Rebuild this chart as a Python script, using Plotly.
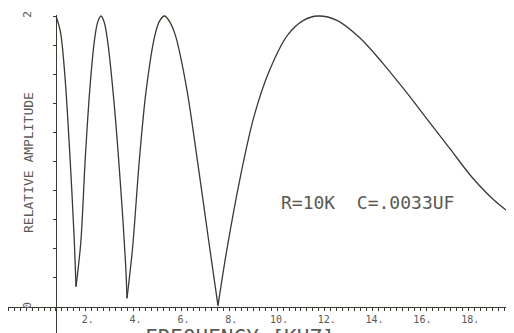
import plotly.graph_objects as go

# frequency (kHz) and relative amplitude
freq_khz = [0.0, 0.188, 0.377, 0.565, 0.753, 0.837,
            1.036, 1.224, 1.412, 1.600, 1.741, 1.883, 2.024, 2.165, 2.448, 2.741,
            2.918, 2.971,
            3.201, 3.483, 3.766, 4.142, 4.331, 4.538, 4.755, 4.990, 5.460, 5.931,
            6.402, 6.778,
            7.155, 7.720, 8.285, 8.944, 9.697, 10.356, 10.958, 11.757, 12.709,
            13.651, 14.592, 15.533, 16.473, 17.416, 18.357, 19.205]
amplitude = [2.0, 1.89, 1.58, 1.09, 0.50, 0.14,
             0.44, 1.02, 1.49, 1.82, 1.956, 2.0, 1.954, 1.82, 1.37, 0.74,
             0.28, 0.06,
             0.40, 1.00, 1.48, 1.87, 1.965, 2.0, 1.962, 1.87, 1.51, 0.99,
             0.44, 0.01,
             0.40, 0.90, 1.31, 1.63, 1.87, 1.97, 2.0, 1.97, 1.85,
             1.68, 1.49, 1.29, 1.09, 0.89, 0.73, 0.62]
# indices of the notches, where each lobe ends
null_idx = [0, 5, 17, 29, len(freq_khz) - 1]

x_ticks = [2, 4, 6, 8, 10, 12, 14, 16, 18]
x_ticktext = ["2.", "4.", "6.", "8.", "10.", "12.", "14.", "16.", "18."]
y_ticks = [0, 2]
y_ticktext = ["0", "2"]
note = "R=10K\u00a0 C=.0033UF"

INK = "#3a3a32"
TEXT = "#5a5a55"
MONO = "DejaVu Sans Mono"

fig = go.Figure()
# draw each lobe separately so the notches stay sharp
for a, b in zip(null_idx[:-1], null_idx[1:]):
    fig.add_trace(go.Scatter(
        x=freq_khz[a:b + 1], y=amplitude[a:b + 1],
        mode="lines",
        line=dict(color=INK, width=1.3, shape="spline", smoothing=0.9),
        showlegend=False, hoverinfo="skip",
    ))

fig.add_annotation(
    x=13.03, y=0.715, xref="x", yref="y", text=note, showarrow=False,
    font=dict(family=MONO, size=18, color=TEXT),
)
fig.add_annotation(
    x=0.0395, y=0.5377, xref="paper", yref="paper", xanchor="center",
    text="RELATIVE AMPLITUDE", textangle=-90, showarrow=False,
    font=dict(family=MONO, size=13, color=TEXT),
)
fig.add_annotation(
    x=0.4585, y=0.0283, xref="paper", yref="paper", xanchor="center",
    yanchor="top", text="FREQUENCY [KHZ]", showarrow=False,
    font=dict(family=MONO, size=21, color=TEXT),
)

# the page body adds an 8px offset, so the figure is sized to the rest of the window
fig.update_layout(
    width=506, height=325,
    margin=dict(l=0, r=0, t=7, b=0),
    paper_bgcolor="white", plot_bgcolor="white",
    xaxis=dict(
        range=[-2.008, 19.163], anchor="free", position=0.0818,
        showline=True, linecolor=INK, linewidth=1,
        tickmode="array", tickvals=x_ticks, ticktext=x_ticktext,
        ticks="outside", ticklen=3, tickcolor=INK, ticklabelshift=-16,
        tickfont=dict(family=MONO, size=10, color=TEXT),
        minor=dict(tickmode="linear", tick0=0, dtick=0.25, ticks="outside",
                   ticklen=3, tickcolor=INK, showgrid=False),
        showgrid=False, zeroline=False, automargin=False,
    ),
    yaxis=dict(
        range=[-0.1787, 2.0069], anchor="free", position=0.09486,
        showline=True, linecolor=INK, linewidth=1,
        tickmode="array", tickvals=y_ticks, ticktext=y_ticktext,
        tickangle=-90, ticks="outside", ticklen=3, tickcolor=INK,
        ticklabelstandoff=18,
        tickfont=dict(family=MONO, size=11, color=TEXT),
        minor=dict(tickmode="linear", tick0=0, dtick=0.2, ticks="outside",
                   ticklen=3, tickcolor=INK, showgrid=False),
        showgrid=False, zeroline=False, automargin=False,
    ),
)

fig.write_html("out.html")
